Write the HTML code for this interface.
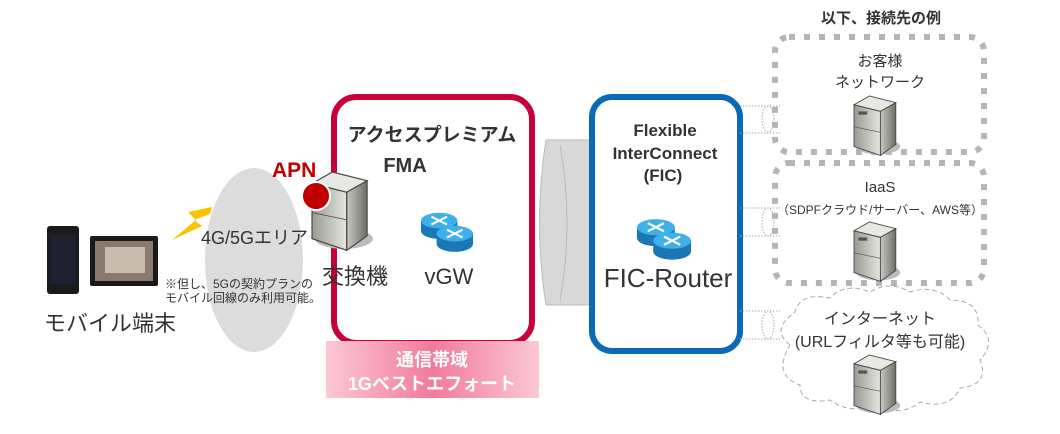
<!DOCTYPE html>
<html><head><meta charset="utf-8"><style>
html,body{margin:0;padding:0;background:#fff;}
svg text{font-family:"Liberation Sans","Noto Sans CJK JP",sans-serif;}
</style></head><body>
<svg width="1060" height="429" viewBox="0 0 1060 429" xmlns="http://www.w3.org/2000/svg">
<defs>
<linearGradient id="pink" x1="0" y1="0" x2="1" y2="0">
<stop offset="0" stop-color="#fbc8d6"/><stop offset="0.5" stop-color="#f27a9c"/><stop offset="1" stop-color="#fbc8d6"/></linearGradient>
<linearGradient id="srvF" x1="0" y1="0" x2="1" y2="0"><stop offset="0" stop-color="#9a9a94"/><stop offset="1" stop-color="#e6e6e0"/></linearGradient>
<linearGradient id="srvS" x1="0" y1="0" x2="1" y2="0"><stop offset="0" stop-color="#c8c8c0"/><stop offset="1" stop-color="#6e6e68"/></linearGradient>
<g id="srv">
<ellipse cx="22" cy="46" rx="20" ry="7" fill="#bbb"/>
<polygon points="0,8 14,0 38,6 24,14" fill="#e8e8e2" stroke="#444" stroke-width="0.8"/>
<polygon points="0,8 24,14 24,54 0,46" fill="url(#srvF)" stroke="#444" stroke-width="0.8"/>
<polygon points="24,14 38,6 38,44 24,54" fill="url(#srvS)" stroke="#444" stroke-width="0.8"/>
<line x1="0" y1="28" x2="24" y2="33" stroke="#555" stroke-width="0.6"/>
<rect x="4" y="14" width="8" height="3" fill="#555"/>
</g>
<g id="rtr">
<ellipse cx="14" cy="20" rx="14" ry="6" fill="#1a78b8"/>
<rect x="0" y="12" width="28" height="8" fill="#1a78b8"/>
<ellipse cx="14" cy="12" rx="14" ry="6" fill="#3fb0e8"/>
<ellipse cx="26" cy="30" rx="14" ry="6" fill="#1a78b8"/>
<rect x="12" y="22" width="28" height="8" fill="#1a78b8"/>
<ellipse cx="26" cy="22" rx="14" ry="6" fill="#3fb0e8"/>
<path d="M20 19 l12 6 M32 19 l-12 6 M8 9 l12 6 M20 9 l-12 6" stroke="#fff" stroke-width="1.6"/>
</g>
</defs>

<!-- devices -->
<rect x="47" y="226" width="32" height="68" rx="3" fill="#1a1a1a"/>
<rect x="50" y="234" width="26" height="50" fill="#1e2030"/>
<rect x="90" y="236" width="68" height="50" rx="2" fill="#1a1a1a"/>
<rect x="95" y="241" width="58" height="40" fill="#8a7a6a"/>
<rect x="105" y="247" width="40" height="26" fill="#c8bcae"/>
<text x="44" y="331" font-size="22" fill="#333">モバイル端末</text>

<!-- lightning -->
<polygon points="212,207 188,212 196,220 172,240 202,226 194,220 210,214" fill="#f6c400"/>

<!-- ellipse -->
<ellipse cx="254" cy="260" rx="49" ry="92" fill="#dcdcdc"/>
<text x="201" y="244" font-size="18" fill="#333">4G/5Gエリア</text>
<text x="165" y="288" font-size="12" fill="#333">※但し、5Gの契約プランの</text>
<text x="165" y="302" font-size="12" fill="#333">モバイル回線のみ利用可能。</text>

<!-- cylinder -->
<path d="M546 140 L590 140 L590 305 L546 305 Q533 222 546 140 Z" fill="#d8d8d8" stroke="#bbb"/>
<path d="M560 145 Q574 222 560 300" fill="none" stroke="#bbb"/>

<!-- red box -->
<rect x="334" y="97" width="198" height="246" rx="22" fill="#fff" stroke="#c8003a" stroke-width="6"/>
<rect x="326" y="341" width="213" height="57" fill="url(#pink)"/>
<text x="432" y="366" font-size="18" font-weight="bold" fill="#fff" text-anchor="middle">通信帯域</text>
<text x="432" y="390" font-size="18" font-weight="bold" fill="#fff" text-anchor="middle">1Gベストエフォート</text>
<text x="432" y="141" font-size="19" font-weight="bold" fill="#333" text-anchor="middle">アクセスプレミアム</text>
<text x="405" y="172" font-size="20" font-weight="bold" fill="#333" text-anchor="middle">FMA</text>
<use href="#srv" transform="translate(312,172) scale(1.45)"/>
<circle cx="316" cy="196" r="14" fill="#c00000" stroke="#fff" stroke-width="2"/>
<text x="272" y="177" font-size="21" font-weight="bold" fill="#c00000">APN</text>
<text x="322" y="284" font-size="22" fill="#333">交換機</text>
<use href="#rtr" transform="translate(421,205) scale(1.3)"/>
<text x="449" y="284" font-size="22" fill="#333" text-anchor="middle">vGW</text>

<!-- blue box -->
<rect x="592" y="97" width="148" height="254" rx="20" fill="#fff" stroke="#0a6ab5" stroke-width="6"/>
<text x="665" y="136" font-size="17" font-weight="bold" fill="#333" text-anchor="middle">Flexible</text>
<text x="665" y="159" font-size="17" font-weight="bold" fill="#333" text-anchor="middle">InterConnect</text>
<text x="663" y="181" font-size="17" font-weight="bold" fill="#333" text-anchor="middle">(FIC)</text>
<use href="#rtr" transform="translate(637,211) scale(1.35)"/>
<text x="668" y="287" font-size="26" fill="#333" text-anchor="middle">FIC-Router</text>

<!-- connectors -->
<g fill="none" stroke="#aaa" stroke-width="1" stroke-dasharray="1.5,1.5">
<path d="M740 106 H780 M740 133 H780"/><ellipse cx="768" cy="119" rx="6" ry="13"/>
<path d="M740 208 H780 M740 236 H780"/><ellipse cx="768" cy="222" rx="6" ry="14"/>
<path d="M740 311 H780 M740 339 H780"/><ellipse cx="768" cy="325" rx="6" ry="14"/>
</g>

<!-- header -->
<text x="881" y="23" font-size="15" font-weight="bold" fill="#333" text-anchor="middle">以下、接続先の例</text>

<!-- dashed boxes -->
<g fill="none" stroke="#b5b5b5" stroke-width="6" stroke-dasharray="6,9">
<rect x="775" y="37" width="209" height="115" rx="14"/>
<rect x="775" y="163" width="209" height="120" rx="14"/>
</g>
<text x="880" y="66" font-size="15" fill="#333" text-anchor="middle">お客様</text>
<text x="880" y="87" font-size="15" fill="#333" text-anchor="middle">ネットワーク</text>
<use href="#srv" transform="translate(854,96) scale(1.1)"/>
<text x="880" y="192" font-size="15" fill="#333" text-anchor="middle">IaaS</text>
<text x="880" y="214" font-size="12" fill="#333" text-anchor="middle">（SDPFクラウド/サーバー、AWS等）</text>
<use href="#srv" transform="translate(854,222) scale(1.1)"/>

<!-- cloud -->
<path d="M790 345 Q770 330 795 312 Q800 292 830 298 Q845 282 870 292 Q890 280 910 292 Q935 284 950 300 Q980 300 978 325 Q998 340 980 360 Q990 385 960 388 Q950 410 920 402 Q900 418 875 404 Q850 415 830 400 Q800 405 800 385 Q772 375 790 345 Z" fill="#fff" stroke="#aaa" stroke-width="1" stroke-dasharray="5,3"/>
<text x="880" y="324" font-size="16" fill="#333" text-anchor="middle">インターネット</text>
<text x="880" y="347" font-size="16" fill="#333" text-anchor="middle">(URLフィルタ等も可能)</text>
<use href="#srv" transform="translate(854,355) scale(1.1)"/>
</svg>
</body></html>
